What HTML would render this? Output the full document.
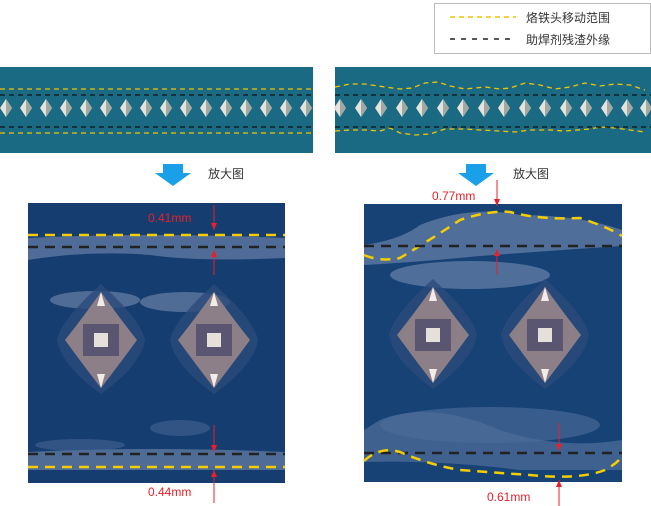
<!DOCTYPE html>
<html><head><meta charset="utf-8"><style>
body{margin:0;background:#fff;width:651px;height:506px;overflow:hidden}
svg{display:block}
text{font-family:"Liberation Sans","Noto Sans CJK SC",sans-serif}
</style></head><body>
<svg width="651" height="506" viewBox="0 0 651 506">
<defs>
<g id="sd"><path d="M0,-9 L6,0 L0,9 L-6,0Z" fill="#e4e4dc"/><path d="M0,-9 L6,0 L0,9Z" fill="#a2a8a2"/></g>
<g id="bd">
<path d="M0,-56 Q40,-20 44,0 Q40,25 0,54 Q-40,25 -44,0 Q-40,-20 0,-56Z" fill="#2a4b7c" opacity=".8"/>
<path d="M0,-48 Q20,-20 36,0 Q20,22 0,48 Q-20,22 -36,0 Q-20,-20 0,-48Z" fill="#8d7f87"/>
<rect x="-18" y="-16" width="36" height="32" fill="#5a5570"/>
<rect x="-7" y="-7" width="14" height="14" fill="#e6e0da"/>
<path d="M0,-48 l4,14 h-8Z M0,48 l4,-14 h-8Z" fill="#f2ece8"/>
</g>
<marker id="ah" markerWidth="7" markerHeight="6" refX="7" refY="3" orient="auto" markerUnits="userSpaceOnUse"><path d="M0,0 L7,3 L0,6Z" fill="#e8202a"/></marker>
</defs>
<!-- legend -->
<rect x="434.5" y="3.5" width="216" height="50" fill="#fff" stroke="#bbb"/>
<line x1="450" y1="17" x2="516" y2="17" stroke="#f3c400" stroke-width="1.5" stroke-dasharray="5,4"/>
<text x="526" y="22" font-size="12" fill="#333">烙铁头移动范围</text>
<line x1="450" y1="39" x2="516" y2="39" stroke="#222" stroke-width="1.5" stroke-dasharray="5,6"/>
<text x="526" y="44" font-size="12" fill="#333">助焊剂残渣外缘</text>
<!-- top strips -->
<rect x="0" y="67" width="313" height="86" fill="#1b6a84"/>
<rect x="335" y="67" width="317" height="86" fill="#1b6a84"/>
<g stroke-dasharray="5,4" stroke-width="1.3" fill="none">
<line x1="0" y1="89" x2="313" y2="89" stroke="#f3c400"/>
<line x1="0" y1="133" x2="313" y2="133" stroke="#f3c400"/>
<line x1="0" y1="95" x2="313" y2="95" stroke="#111"/>
<line x1="0" y1="127" x2="313" y2="127" stroke="#111"/>
<path d="M335,87 L350,84 L365,84 L385,87 L400,89 L412,88 L425,83 L438,82 L450,86 L465,89 L485,87 L500,89 L510,88 L525,83 L540,85 L555,89 L570,87 L585,83 L600,86 L615,84 L630,85 L645,90" stroke="#f3c400"/>
<path d="M335,131 L350,130 L365,130 L380,131 L390,128 L400,133 L415,135 L430,134 L445,129 L465,129 L480,130 L500,131 L515,132 L530,130 L550,130 L565,131 L590,129 L600,127 L615,128 L630,130 L645,132" stroke="#f3c400"/>
<line x1="335" y1="95" x2="652" y2="95" stroke="#111"/>
<line x1="335" y1="127" x2="652" y2="127" stroke="#111"/>
</g>
<g>
<use href="#sd" x="6" y="108"/><use href="#sd" x="26" y="108"/><use href="#sd" x="46" y="108"/><use href="#sd" x="66" y="108"/><use href="#sd" x="86" y="108"/><use href="#sd" x="106" y="108"/><use href="#sd" x="126" y="108"/><use href="#sd" x="146" y="108"/><use href="#sd" x="166" y="108"/><use href="#sd" x="186" y="108"/><use href="#sd" x="206" y="108"/><use href="#sd" x="226" y="108"/><use href="#sd" x="246" y="108"/><use href="#sd" x="266" y="108"/><use href="#sd" x="286" y="108"/><use href="#sd" x="306" y="108"/>
</g>
<g>
<use href="#sd" x="340" y="108"/><use href="#sd" x="361" y="108"/><use href="#sd" x="381" y="108"/><use href="#sd" x="402" y="108"/><use href="#sd" x="422" y="108"/><use href="#sd" x="443" y="108"/><use href="#sd" x="463" y="108"/><use href="#sd" x="484" y="108"/><use href="#sd" x="504" y="108"/><use href="#sd" x="525" y="108"/><use href="#sd" x="545" y="108"/><use href="#sd" x="566" y="108"/><use href="#sd" x="586" y="108"/><use href="#sd" x="607" y="108"/><use href="#sd" x="627" y="108"/><use href="#sd" x="646" y="108"/>
</g>
<!-- arrows -->
<path d="M163,164 h20 v9 h8 l-18,13 l-18,-13 h8Z" fill="#1aa0e8"/>
<path d="M466,164 h20 v9 h8 l-18,13 l-18,-13 h8Z" fill="#1aa0e8"/>
<text x="208" y="178" font-size="12" fill="#333">放大图</text>
<text x="513" y="178" font-size="12" fill="#333">放大图</text>
<!-- left big -->
<rect x="28" y="203" width="257" height="280" fill="#163d70"/>
<g fill="#6e86ad" opacity=".65">
<path d="M28,238 Q150,232 285,238 L285,258 Q200,262 150,255 Q90,250 28,260Z"/>
<path d="M28,452 Q150,446 285,452 L285,470 L28,470Z"/>
<ellipse cx="95" cy="300" rx="45" ry="9"/><ellipse cx="185" cy="302" rx="45" ry="10"/>
<ellipse cx="80" cy="445" rx="45" ry="6" opacity=".5"/>
<ellipse cx="180" cy="428" rx="30" ry="8" opacity=".5"/>
</g>
<use href="#bd" x="101" y="340"/><use href="#bd" x="214" y="340"/>
<g stroke-width="2.5" fill="none">
<line x1="28" y1="235" x2="285" y2="235" stroke="#f5cd00" stroke-dasharray="10,7"/>
<line x1="28" y1="247" x2="285" y2="247" stroke="#222" stroke-dasharray="10,7"/>
<line x1="28" y1="454" x2="285" y2="454" stroke="#222" stroke-dasharray="10,7"/>
<line x1="28" y1="467" x2="285" y2="467" stroke="#f5cd00" stroke-dasharray="10,7"/>
</g>
<!-- right big -->
<rect x="364" y="204" width="258" height="278" fill="#164276"/>
<g fill="#6e86ad" opacity=".65">
<path d="M364,245 Q400,240 420,225 Q470,205 520,215 Q580,215 622,230 L622,246 Q560,250 480,256 Q420,262 364,265Z"/>
<ellipse cx="470" cy="275" rx="80" ry="14"/>
<path d="M380,420 Q430,400 500,430 Q560,450 622,440 L622,470 Q570,470 520,470 Q440,460 364,462 L364,430Z" opacity=".7"/>
<ellipse cx="490" cy="425" rx="110" ry="18" opacity=".6"/>
</g>
<use href="#bd" x="433" y="335"/><use href="#bd" x="545" y="335"/>
<g stroke-width="2.5" fill="none" stroke-dasharray="10,7">
<path d="M364,255 Q380,262 400,258 Q430,240 460,220 Q490,210 510,212 Q540,220 580,218 Q610,228 622,236" stroke="#f5cd00"/>
<line x1="364" y1="246" x2="622" y2="246" stroke="#222"/>
<line x1="364" y1="453" x2="622" y2="453" stroke="#222"/>
<path d="M364,461 Q380,446 400,452 Q430,465 460,470 Q500,473 530,475 Q580,480 605,470 Q618,463 622,456" stroke="#f5cd00"/>
</g>
<!-- measurements -->
<g stroke="#e8202a" stroke-width="1" fill="none" marker-end="url(#ah)">
<line x1="214" y1="205" x2="214" y2="230"/>
<line x1="214" y1="275" x2="214" y2="250"/>
<line x1="214" y1="425" x2="214" y2="452"/>
<line x1="214" y1="503" x2="214" y2="470"/>
<line x1="497" y1="180" x2="497" y2="206"/>
<line x1="497" y1="275" x2="497" y2="249"/>
<line x1="559" y1="423" x2="559" y2="451"/>
<line x1="559" y1="507" x2="559" y2="480"/>
</g>
<g font-size="12" fill="#e8202a">
<text x="148" y="222">0.41mm</text>
<text x="148" y="496">0.44mm</text>
<text x="432" y="200">0.77mm</text>
<text x="487" y="501">0.61mm</text>
</g>
</svg>
</body></html>
